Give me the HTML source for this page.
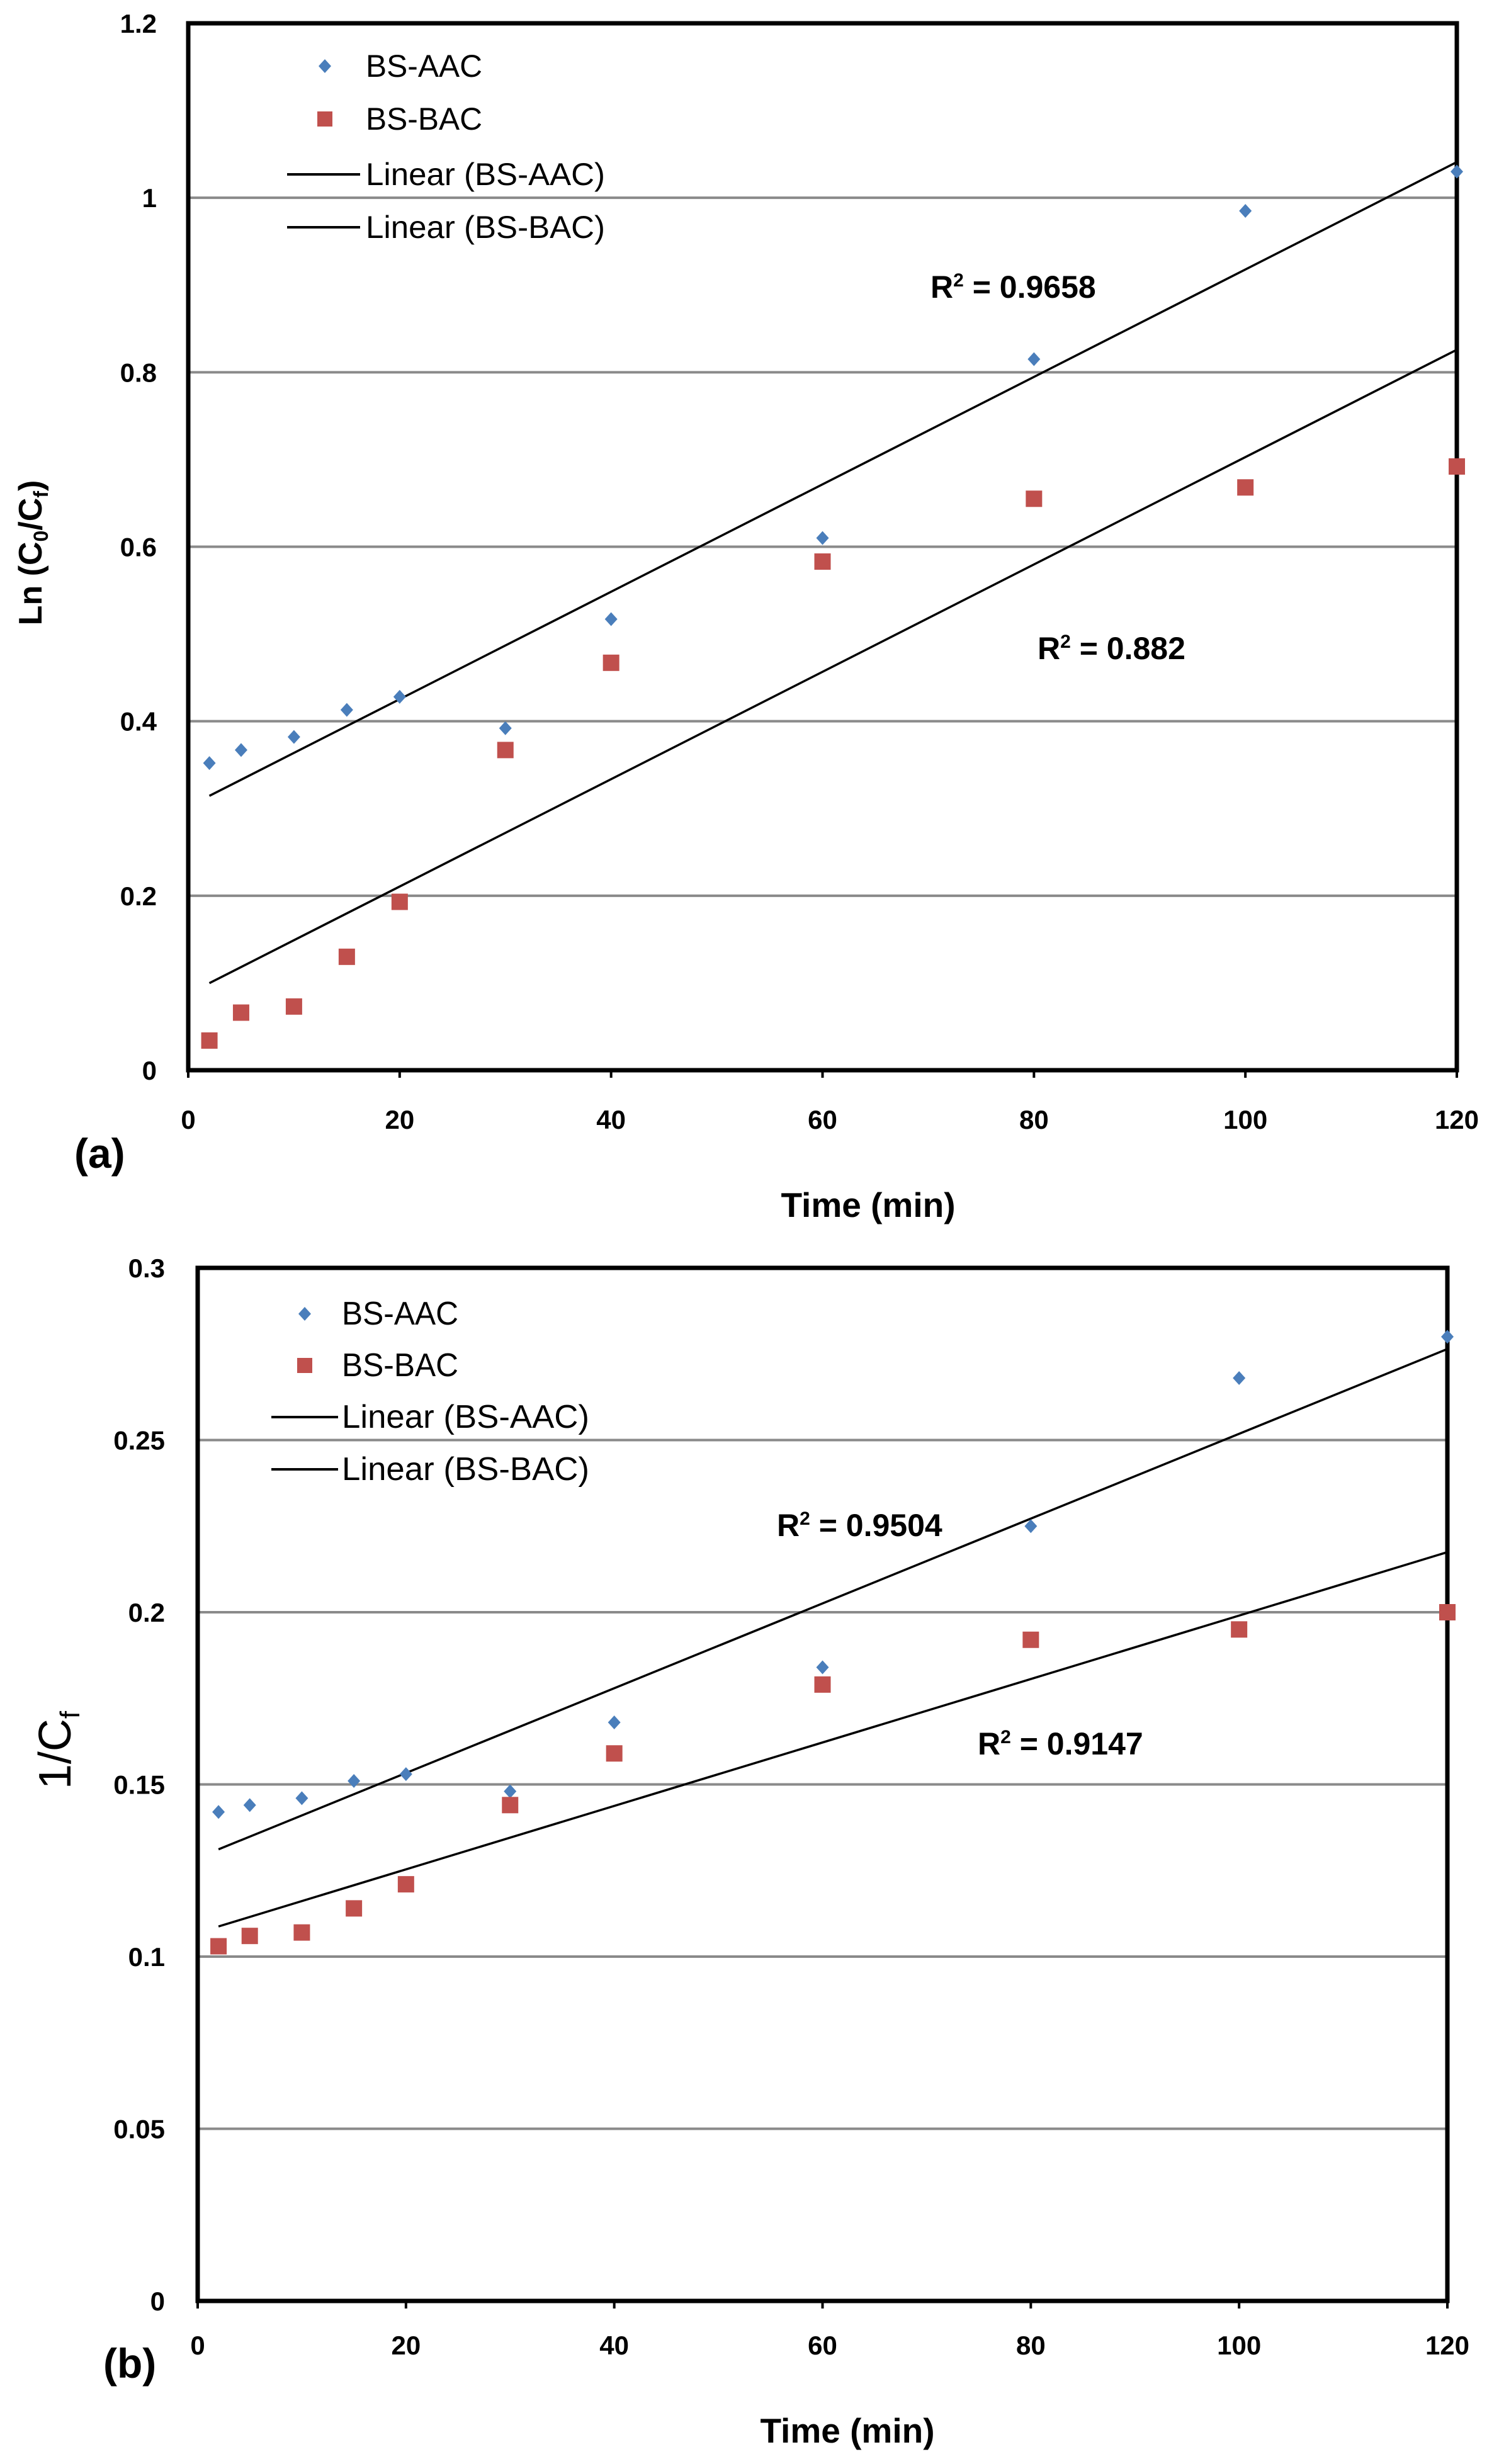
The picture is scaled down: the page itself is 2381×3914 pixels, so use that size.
<!DOCTYPE html>
<html><head><meta charset="utf-8"><style>
html,body{margin:0;padding:0;background:#fff;}
svg{display:block;font-family:"Liberation Sans",sans-serif;}
</style></head><body>
<svg id="s" width="2381" height="3914" viewBox="0 0 2381 3914" xmlns="http://www.w3.org/2000/svg"></svg>
<script>
const xValues=[2,5,10,15,20,30,40,60,80,100,120];
const aAAC=[0.352,0.367,0.382,0.413,0.428,0.392,0.517,0.61,0.815,0.985,1.03];
const aBAC=[0.034,0.066,0.073,0.13,0.193,0.367,0.467,0.583,0.655,0.668,0.692];
const bAAC=[0.142,0.144,0.146,0.151,0.153,0.148,0.168,0.184,0.225,0.268,0.28];
const bBAC=[0.103,0.106,0.107,0.114,0.121,0.144,0.159,0.179,0.192,0.195,0.2];
const xTicks=[0,20,40,60,80,100,120];
const aYTicks=[0,0.2,0.4,0.6,0.8,1,1.2];
const bYTicks=[0,0.05,0.1,0.15,0.2,0.25,0.3];
const aR2=["0.9658","0.882"];
const bR2=["0.9504","0.9147"];
const NS="http://www.w3.org/2000/svg";
const svg=document.getElementById('s');
function mk(tag,attrs,parent,text){const e=document.createElementNS(NS,tag);for(const k in attrs)e.setAttribute(k,attrs[k]);if(text!==undefined)e.textContent=text;(parent||svg).appendChild(e);return e;}
function fit(xs,ys){const n=xs.length;let sx=0,sy=0,sxx=0,sxy=0;for(let i=0;i<n;i++){sx+=xs[i];sy+=ys[i];sxx+=xs[i]*xs[i];sxy+=xs[i]*ys[i];}const m=(n*sxy-sx*sy)/(n*sxx-sx*sx);return [m,(sy-m*sx)/n];}
function chart(cfg){
  const g=mk('g',{});
  
  
  const X=v=>cfg.L+(v-0)/120*(cfg.R-cfg.L);
  const Y=v=>cfg.B-(v/cfg.ymax)*(cfg.B-cfg.T);
  cfg.yTicks.forEach(t=>{
    if(t>0&&t<cfg.ymax){const l=mk('line',{x1:cfg.L,x2:cfg.R,y1:Y(t),y2:Y(t),stroke:'#8a8a8a','stroke-width':4},g);
    }
    const tx=mk('text',{x:cfg.yLabX,y:Y(t)+15,'text-anchor':'end','font-size':42,'font-weight':'bold'},g,String(t));
    
  });
  xTicks.forEach(t=>{
    mk('line',{x1:X(t),x2:X(t),y1:cfg.B,y2:cfg.B+12,stroke:'#000','stroke-width':4},g);
    const tx=mk('text',{x:X(t),y:cfg.xLabY,'text-anchor':'middle','font-size':42,'font-weight':'bold'},g,String(t));
    
  });
  const fr=mk('rect',{x:cfg.L,y:cfg.T,width:cfg.R-cfg.L,height:cfg.B-cfg.T,fill:'none',stroke:'#000','stroke-width':7},g);
  
  [cfg.s1,cfg.s2].forEach((ys,k)=>{
    const [m,c]=fit(xValues,ys);
    const ln=mk('line',{x1:X(2),y1:Y(m*2+c),x2:X(120),y2:Y(m*120+c),stroke:'#000','stroke-width':3.5},g);
    
  });
  xValues.forEach((x,i)=>{
    const px=X(x),py=Y(cfg.s1[i]);
    const d=mk('path',{d:`M${px} ${py-11}L${px+10} ${py}L${px} ${py+11}L${px-10} ${py}Z`,fill:'#4a7ebb'},g);
    
    const q=Y(cfg.s2[i]);
    const r=mk('rect',{x:px-13,y:q-13,width:26,height:26,fill:'#c0504d'},g);
    
  });
  // legend
  const lg=mk('g',{'font-size':cfg.legFs,'font-weight':cfg.legW},g);
  
  const mx=cfg.leg.mx,ly=cfg.leg.y;
  mk('path',{d:`M${mx} ${ly[0]-11}L${mx+10} ${ly[0]}L${mx} ${ly[0]+11}L${mx-10} ${ly[0]}Z`,fill:'#4a7ebb'},lg);
  mk('rect',{x:mx-12,y:ly[1]-12,width:24,height:24,fill:'#c0504d'},lg);
  mk('line',{x1:cfg.leg.l1,x2:cfg.leg.l2,y1:ly[2],y2:ly[2],stroke:'#000','stroke-width':4},lg);
  mk('line',{x1:cfg.leg.l1,x2:cfg.leg.l2,y1:ly[3],y2:ly[3],stroke:'#000','stroke-width':4},lg);
  ['BS-AAC','BS-BAC','Linear (BS-AAC)','Linear (BS-BAC)'].forEach((t,i)=>{
    const e=mk('text',{x:cfg.leg.tx,y:ly[i]+17,textLength:cfg.leg.tl[i],lengthAdjust:'spacingAndGlyphs'},lg,t);
    
  });
  cfg.r2.forEach((p,i)=>{
    const e=mk('text',{x:p[0],y:p[1]+17,'font-size':50,'font-weight':'bold'},g);
    
    mk('tspan',{},e,'R');mk('tspan',{'font-size':30,dy:-18},e,'2');mk('tspan',{dy:18},e,' = '+cfg.r2t[i]);
  });
  const pl=mk('text',{x:cfg.panel[0],y:cfg.panel[1],'font-size':66,'font-weight':'bold'},g,cfg.panelT);
  
  const xt=mk('text',{x:cfg.xt[0],y:cfg.xt[1],'text-anchor':'middle','font-size':55,'font-weight':'bold'},g,'Time (min)');
  
  const yt=mk('text',{transform:`translate(${cfg.yt[0]},${cfg.yt[1]}) rotate(-90)`,'text-anchor':'middle','font-size':cfg.ytFs,'font-weight':cfg.ytW},g);
  
  cfg.ytParts.forEach(p=>{mk('tspan',p[1],yt,p[0]);});
}
chart({name:'chart-a',L:299,R:2314,T:37,B:1700,ymax:1.2,yTicks:aYTicks,s1:aAAC,s2:aBAC,yLabX:249,xLabY:1793,
  legFs:50,legW:'normal',leg:{mx:516,tx:581,l1:456,l2:572,y:[105,189,277,361],tl:[185,185,380,380]},
  r2:[[1478,456],[1648,1030]],r2t:aR2,panel:[118,1855],panelT:'(a)',xt:[1379,1933],
  yt:[66,878],ytFs:52,ytW:'bold',ytParts:[['Ln (C',{}],['0',{'font-size':32,dy:10}],['/C',{dy:-10}],['f',{'font-size':32,dy:10}],[')',{dy:-10}]]});
chart({name:'chart-b',L:314,R:2299,T:2014,B:3655,ymax:0.3,yTicks:bYTicks,s1:bAAC,s2:bBAC,yLabX:262,xLabY:3740,
  legFs:52,legW:'normal',leg:{mx:484,tx:543,l1:431,l2:537,y:[2087,2169,2251,2334],tl:[185,185,393,393]},
  r2:[[1234,2423],[1553,2770]],r2t:bR2,panel:[164,3777],panelT:'(b)',xt:[1346,3880],
  yt:[112,2780],ytFs:72,ytW:'normal',ytParts:[['1/C',{}],['f',{'font-size':44,dy:14}]]});
</script>
</body></html>
